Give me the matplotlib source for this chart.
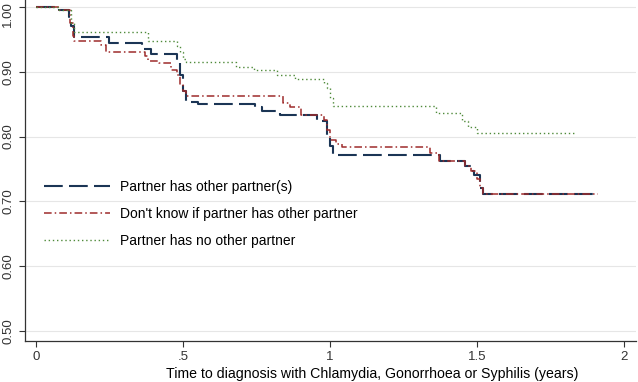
import numpy as np
import matplotlib.pyplot as plt

plt.rcParams['font.family'] = ['Liberation Sans', 'DejaVu Sans']

# Kaplan-Meier style step curves (time in years, survival proportion)
t_other = [0, 0.08, 0.112, 0.12, 0.13, 0.25, 0.36, 0.39, 0.48, 0.49, 0.50, 0.51, 0.55,
           0.745, 0.77, 0.83, 0.955, 0.99, 1.0, 1.01, 1.375, 1.46, 1.48, 1.49, 1.51, 1.52, 1.91]
s_other = [1.0, 0.995, 0.985, 0.97, 0.953, 0.944, 0.935, 0.927, 0.915, 0.895, 0.870, 0.854, 0.850,
           0.845, 0.840, 0.834, 0.824, 0.80, 0.785, 0.771, 0.762, 0.755, 0.747, 0.74, 0.72, 0.711, 0.711]

t_dk = [0, 0.08, 0.115, 0.125, 0.13, 0.22, 0.24, 0.37, 0.38, 0.42, 0.46, 0.48, 0.49, 0.50, 0.51,
        0.84, 0.864, 0.90, 0.98, 0.99, 1.0, 1.02, 1.04, 1.34, 1.37, 1.46, 1.48, 1.50, 1.51, 1.52, 1.91]
s_dk = [1.0, 0.995, 0.975, 0.955, 0.947, 0.942, 0.931, 0.925, 0.917, 0.913, 0.903, 0.895, 0.88, 0.87, 0.862,
        0.852, 0.845, 0.834, 0.826, 0.81, 0.795, 0.788, 0.784, 0.775, 0.762, 0.755, 0.747, 0.735, 0.72, 0.711, 0.711]

t_none = [0, 0.08, 0.12, 0.13, 0.38, 0.48, 0.49, 0.50, 0.51, 0.68, 0.74, 0.82, 0.88, 0.98,
          0.99, 1.0, 1.01, 1.36, 1.45, 1.47, 1.50, 1.83]
s_none = [1.0, 0.995, 0.975, 0.962, 0.947, 0.94, 0.93, 0.92, 0.915, 0.908, 0.903, 0.895, 0.889, 0.883,
          0.875, 0.86, 0.847, 0.837, 0.824, 0.815, 0.806, 0.806]

labels = ["Partner has other partner(s)",
          "Don't know if partner has other partner",
          "Partner has no other partner"]

xticks = [0, 0.5, 1, 1.5, 2]
xticklabels = ["0", ".5", "1", "1.5", "2"]
yticks = [0.5, 0.6, 0.7, 0.8, 0.9, 1.0]

fig = plt.figure(figsize=(6.38, 3.82), dpi=100)
ax = fig.add_axes([25 / 638, 41 / 382, 611 / 638, 341 / 382])

ax.step(t_other, s_other, where='post', color='#1b3555', lw=1.5,
        linestyle=(0, (9, 3)), label=labels[0])
ax.step(t_dk, s_dk, where='post', color='#9e2b2b', lw=1.1,
        linestyle=(0, (5, 2, 1, 2)), label=labels[1])
ax.step(t_none, s_none, where='post', color='#4f8a3a', lw=1.0,
        linestyle=(0, (1, 2)), label=labels[2])

ax.set_xlim(-0.037, 2.04)
ax.set_ylim(0.4846, 1.0108)
ax.set_xticks(xticks, labels=xticklabels)
# top label drawn separately so it is not clipped at the figure edge
ax.set_yticks(yticks, labels=[f"{v:.2f}" if v < 1 else "" for v in yticks])
for lab in ax.get_yticklabels():
    lab.set_rotation(90)
    lab.set_va('center')
ax.tick_params(axis='both', labelsize=9.5, colors='#333333', length=4, width=0.8)
ax.tick_params(axis='x', pad=3)
ax.grid(True, axis='y', color='#e6e6e6', lw=0.8)
ax.set_axisbelow(True)
for s in ['top', 'right']:
    ax.spines[s].set_visible(False)
for s in ['left', 'bottom']:
    ax.spines[s].set_color('#333333')
    ax.spines[s].set_linewidth(0.9)

fig.text(8 / 638, 1 - 1 / 382, "1.00", rotation=90, ha='center', va='top',
         fontsize=9.5, color='#333333')
fig.text(372 / 638, 1 / 382,
         "Time to diagnosis with Chlamydia, Gonorrhoea or Syphilis (years)",
         ha='center', va='bottom', fontsize=10.2)

ax.legend(loc='upper left', bbox_to_anchor=(0.01, 0.51), frameon=False,
          fontsize=10, handlelength=4.8, labelspacing=0.95, handletextpad=0.7)

fig.savefig('out.png', dpi=100)
